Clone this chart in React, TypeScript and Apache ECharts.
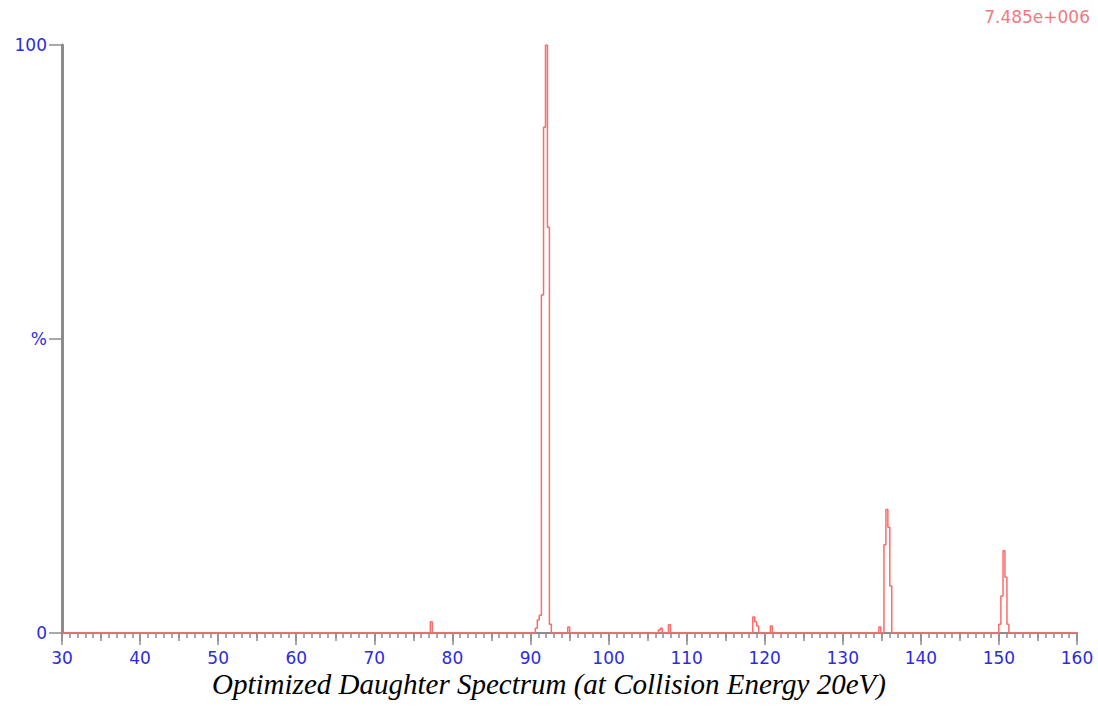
import React, { useEffect, useRef } from "react";
import * as echarts from "echarts";

const mzValues: number[] = [
  30,
  77.05, 77.3, 77.55,
  90.5, 90.75, 91.0, 91.25, 91.55, 91.8, 92.05, 92.3, 92.55, 92.8,
  94.65, 94.9, 95.15,
  106.25, 106.5, 106.75, 107.0, 107.55, 107.8, 108.05,
  118.35, 118.6, 118.85, 119.1, 119.35,
  120.6, 120.85, 121.1,
  134.5, 134.75, 135.0,
  135.15, 135.4, 135.65, 135.9, 136.15, 136.4,
  149.85, 150.1, 150.4, 150.65, 150.9, 151.15, 151.4,
  160,
];

const intensityValues: number[] = [
  0,
  0, 1.9, 0,
  0, 0.8, 2.2, 3.0, 57.5, 86, 100, 69, 1.5, 0,
  0, 1.0, 0,
  0, 0.5, 0.8, 0, 0, 1.4, 0,
  0, 2.7, 1.9, 1.2, 0,
  0, 1.2, 0,
  0, 1.0, 0,
  0, 15, 21, 18, 8, 0,
  0, 1.5, 6.3, 14, 9.5, 1.5, 0,
  0,
];

const yTickLabels: Record<number, string> = { 0: "0", 50: "%", 100: "100" };
const baseIntensityLabel = "7.485e+006";
const chartTitle = "Optimized Daughter Spectrum (at Collision Energy 20eV)";

export default function App() {
  const ref = useRef<HTMLDivElement>(null);

  useEffect(() => {
    if (!ref.current) return;
    const chart = echarts.init(ref.current, undefined, { renderer: "svg" });
    const blue = "#2b2be0";
    const gray = "#8c8c8c";
    const labelFont = "DejaVu Sans";
    chart.setOption({
      animation: false,
      backgroundColor: "#ffffff",
      title: {
        text: chartTitle,
        left: "center",
        top: 669,
        padding: 0,
        textStyle: {
          fontFamily: "Liberation Serif",
          fontStyle: "italic",
          fontWeight: "normal",
          fontSize: 29,
          color: "#000000",
        },
      },
      graphic: [
        {
          type: "text",
          right: 8,
          top: 8,
          style: {
            text: baseIntensityLabel,
            fill: "#f07a80",
            font: `17px ${labelFont}`,
          },
        },
      ],
      grid: { left: 62, right: 21, top: 45, bottom: 80 },
      xAxis: [
        {
          type: "value",
          min: 30,
          max: 160,
          interval: 10,
          position: "bottom",
          axisLine: { show: true, lineStyle: { color: gray, width: 2 } },
          axisTick: { show: true, length: 12, lineStyle: { color: gray, width: 1.5 } },
          minorTick: { show: true, splitNumber: 10, length: 5, lineStyle: { color: gray, width: 1.5 } },
          axisLabel: { color: blue, fontFamily: labelFont, fontSize: 17, margin: 16 },
          splitLine: { show: false },
        },
        {
          type: "value",
          min: 30,
          max: 160,
          interval: 5,
          position: "bottom",
          axisLine: { show: false },
          axisTick: { show: true, length: 8, lineStyle: { color: gray, width: 1.5 } },
          axisLabel: { show: false },
          splitLine: { show: false },
        },
      ],
      yAxis: {
        type: "value",
        min: 0,
        max: 100,
        interval: 50,
        axisLine: { show: true, lineStyle: { color: gray, width: 3 } },
        axisTick: { show: true, length: 13, lineStyle: { color: gray, width: 1.5 } },
        axisLabel: {
          color: blue,
          fontFamily: labelFont,
          fontSize: 17,
          margin: 15,
          formatter: (v: number) => yTickLabels[v] ?? "",
        },
        splitLine: { show: false },
      },
      series: [
        {
          type: "line",
          xAxisIndex: 0,
          step: "middle",
          showSymbol: false,
          symbol: "none",
          data: mzValues.map((m, i) => [m, intensityValues[i]]),
          lineStyle: { color: "#ff6a6a", width: 1.5 },
          z: 5,
        },
      ],
    });
    return () => chart.dispose();
  }, []);

  return (
    <div
      ref={ref}
      style={{ position: "absolute", left: 0, top: 0, width: 1098, height: 713 }}
    />
  );
}
